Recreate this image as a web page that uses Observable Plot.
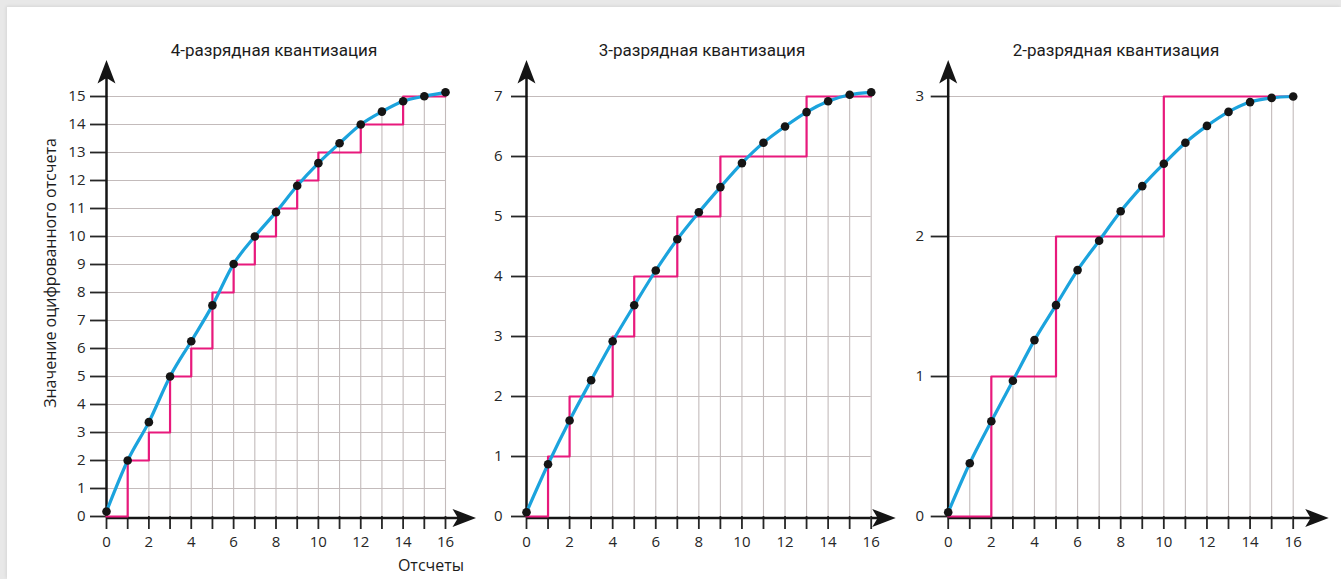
<!DOCTYPE html>
<html>
<head>
<meta charset="utf-8">
<script src="https://cdn.jsdelivr.net/npm/d3@7"></script>
<script src="https://cdn.jsdelivr.net/npm/@observablehq/plot@0.6"></script>
<style>
  html, body { margin: 0; padding: 0; }
  body { width: 1341px; height: 579px; background: #e8e8e8; overflow: hidden; position: relative; }
  #sheet { position: absolute; left: 7px; top: 7px; width: 1334px; height: 572px; background: #fff; box-shadow: -1px -1px 3px rgba(0,0,0,0.08); }
  .panel { position: absolute; top: 0; }
  .title { position: absolute; top: 40px; font-family: Roboto, sans-serif; font-size: 17px; color: #1c1c1c; transform: translateX(-50%); white-space: nowrap; }
  .ylab { position: absolute; left: 50px; top: 273px; font-family: "Open Sans", sans-serif; font-size: 16px; color: #1c1c1c; white-space: nowrap; transform: translate(-50%, -50%) rotate(-90deg); }
  .xlab { position: absolute; left: 431px; top: 565px; font-family: "Open Sans", sans-serif; font-size: 16px; color: #1c1c1c; white-space: nowrap; transform: translate(-50%, -50%); }
  svg g[aria-label="x-axis tick"] path, svg g[aria-label="y-axis tick"] path,
  svg g[aria-label="x-axis"] line, svg g[aria-label="y-axis"] line { stroke-width: 1.8px; }
</style>
</head>
<body>
<div id="sheet"></div>
<script>
// ---- data ----
const samples = [0, 1, 2, 3, 4, 5, 6, 7, 8, 9, 10, 11, 12, 13, 14, 15, 16];
const xTickLabels = [0, 2, 4, 6, 8, 10, 12, 14, 16];

const values4 = [0.18, 2.0, 3.37, 5.0, 6.26, 7.54, 9.02, 10.0, 10.87, 11.81, 12.62, 13.33, 14.0, 14.46, 14.83, 15.01, 15.15];
const quant4  = [0, 2, 3, 5, 6, 8, 9, 10, 11, 12, 13, 13, 14, 14, 15, 15, 15];
const levels4 = [0, 1, 2, 3, 4, 5, 6, 7, 8, 9, 10, 11, 12, 13, 14, 15];

const values3 = [0.07, 0.87, 1.6, 2.27, 2.92, 3.52, 4.1, 4.62, 5.07, 5.49, 5.89, 6.23, 6.5, 6.74, 6.92, 7.03, 7.07];
const quant3  = [0, 1, 2, 2, 3, 4, 4, 5, 5, 6, 6, 6, 6, 7, 7, 7, 7];
const levels3 = [0, 1, 2, 3, 4, 5, 6, 7];

const values2 = [0.03, 0.38, 0.68, 0.97, 1.26, 1.51, 1.76, 1.97, 2.18, 2.36, 2.52, 2.67, 2.79, 2.89, 2.96, 2.99, 3.0];
const quant2  = [0, 0, 1, 1, 1, 2, 2, 2, 2, 2, 3, 3, 3, 3, 3, 3, 3];
const levels2 = [0, 1, 2, 3];

const titles = ["4-разрядная квантизация", "3-разрядная квантизация", "2-разрядная квантизация"];
const yLabel = "Значение оцифрованного отсчета";
const xLabel = "Отсчеты";

// ---- layout ----
const panels = [
  {values: values4, quant: quant4, levels: levels4, title: titles[0], fullGrid: true,
   left: 0, width: 480, marginLeft: 106, marginRight: 35, tickSize: 16, tickPadding: 5, xArrow: 27, titleX: 274},
  {values: values3, quant: quant3, levels: levels3, title: titles[1], fullGrid: true,
   left: 480, width: 430, marginLeft: 46, marginRight: 39.3, tickSize: 15, tickPadding: 9, xArrow: 21, titleX: 702},
  {values: values2, quant: quant2, levels: levels2, title: titles[2], fullGrid: false,
   left: 910, width: 431, marginLeft: 37.7, marginRight: 48.3, tickSize: 17, tickPadding: 7, xArrow: 32, titleX: 1116}
];

const ink = "#151515";
const gridColor = "#c3bbbb";
const blue = "#1ba3dd";
const pink = "#e8197c";

// arrow shape: shaft plus notched head at the tip
const arrowShape = {
  draw(context, l) {
    context.moveTo(0, 0);
    context.lineTo(0, -l + 6);
    context.moveTo(-6.5, -l + 17);
    context.lineTo(0, -l);
    context.lineTo(6.5, -l + 17);
    context.lineTo(0, -l + 13);
    context.closePath();
  }
};

for (const cfg of panels) {
  const rows = samples.map((s, i) => ({s, v: cfg.values[i], q: cfg.quant[i]}));
  const ymax = cfg.levels[cfg.levels.length - 1];
  const xmax = samples[samples.length - 1];
  const grid = cfg.levels.filter(l => l > 0).map(l => ({
    l,
    x2: cfg.fullGrid ? xmax : samples[cfg.quant.findIndex(q => q >= l)]
  }));

  const chart = Plot.plot({
    width: cfg.width,
    height: 579,
    marginLeft: cfg.marginLeft,
    marginRight: cfg.marginRight,
    marginTop: 96,
    marginBottom: 63,
    style: {fontFamily: '"Open Sans", sans-serif', fontSize: "15px", color: "#262626", background: "none", overflow: "visible"},
    x: {domain: [0, xmax], ticks: samples, tickSize: 13, tickPadding: 7,
        tickFormat: d => xTickLabels.includes(d) ? String(d) : "", label: null},
    y: {domain: [0, ymax], ticks: cfg.levels, tickSize: cfg.tickSize, tickPadding: cfg.tickPadding,
        tickFormat: d => String(d), label: null},
    marks: [
      Plot.ruleY(grid, {y: "l", x1: 0, x2: "x2", stroke: gridColor, strokeWidth: 1.1}),
      Plot.ruleX(rows.filter(r => r.s > 0), {x: "s", y1: 0, y2: "v", stroke: gridColor, strokeWidth: 1.1}),
      Plot.ruleX([0], {x: 0, y1: 0, y2: ymax, stroke: ink, strokeWidth: 2.5}),
      Plot.ruleY([0], {y: 0, x1: 0, x2: xmax, dy: 1.5, stroke: ink, strokeWidth: 2.5}),
      Plot.line(rows, {x: "s", y: "q", curve: "step-after", stroke: pink, strokeWidth: 2.2}),
      Plot.line(rows, {x: "s", y: "v", curve: "monotone-x", stroke: blue, strokeWidth: 3.2}),
      Plot.dot(rows, {x: "s", y: "v", r: 4.3, fill: ink}),
      Plot.vector([0], {x: 0, y: ymax, length: 33, rotate: 0, anchor: "start", shape: arrowShape,
                        stroke: ink, fill: ink, strokeWidth: 2.5, strokeLinecap: "butt", strokeLinejoin: "miter"}),
      Plot.vector([0], {x: xmax, y: 0, dy: 1.5, length: cfg.xArrow, rotate: 90, anchor: "start", shape: arrowShape,
                        stroke: ink, fill: ink, strokeWidth: 2.5, strokeLinecap: "butt", strokeLinejoin: "miter"})
    ]
  });
  const holder = document.createElement("div");
  holder.className = "panel";
  holder.style.left = cfg.left + "px";
  holder.style.width = cfg.width + "px";
  holder.appendChild(chart);
  document.body.appendChild(holder);

  const t = document.createElement("div");
  t.className = "title";
  t.style.left = cfg.titleX + "px";
  t.textContent = cfg.title;
  document.body.appendChild(t);
}

const yl = document.createElement("div");
yl.className = "ylab";
yl.textContent = yLabel;
document.body.appendChild(yl);

const xl = document.createElement("div");
xl.className = "xlab";
xl.textContent = xLabel;
document.body.appendChild(xl);
</script>
</body>
</html>
